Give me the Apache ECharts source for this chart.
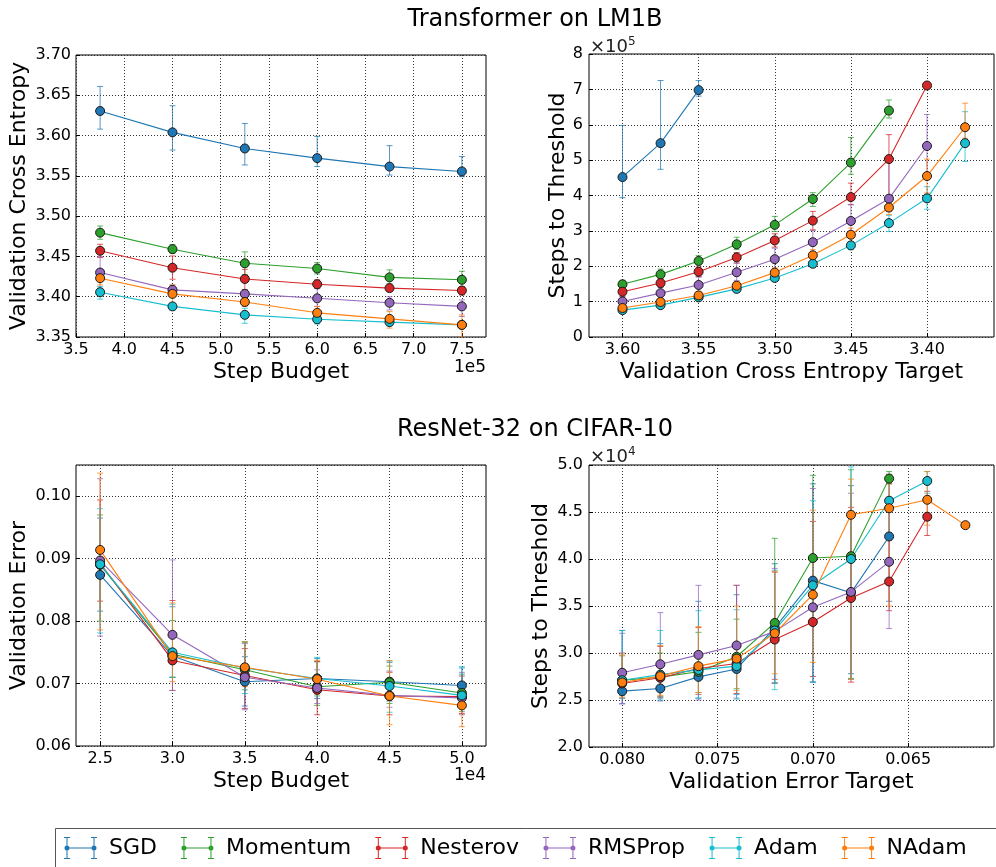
<!DOCTYPE html>
<html><head><meta charset="utf-8">
<script src="https://cdn.jsdelivr.net/npm/echarts@6/dist/echarts.min.js"></script>
<style>html,body{margin:0;padding:0;background:#fff}#c{width:996px;height:867px}</style>
</head><body><div id="c"></div>
<script>
// ---------------- data ----------------
const optimizers = ['SGD','Momentum','Nesterov','RMSProp','Adam','NAdam'];
const colors = ['#1f77b4','#2ca02c','#d62728','#9467bd','#17becf','#ff7f0e'];

// Panel A: Transformer on LM1B, validation cross entropy vs step budget (x1e5)
const lmBudget = [3.75, 4.5, 5.25, 6.0, 6.75, 7.5];
const lmCE_mean = [
  [3.6305, 3.604, 3.584, 3.572, 3.5615, 3.5555],
  [3.4795, 3.459, 3.4415, 3.435, 3.424, 3.421],
  [3.457, 3.436, 3.422, 3.4155, 3.4107, 3.4077],
  [3.430, 3.4085, 3.4035, 3.398, 3.3925, 3.388],
  [3.4056, 3.388, 3.3775, 3.372, 3.3685, 3.365],
  [3.423, 3.4035, 3.3935, 3.380, 3.3725, 3.365]
];
const lmCE_low = [
  [3.608, 3.582, 3.5635, 3.5615, 3.551, 3.549],
  [3.4713, 3.4539, 3.4275, 3.4283, 3.4159, 3.4101],
  [3.4486, 3.4217, 3.409, 3.4105, 3.4064, 3.4022],
  [3.4105, 3.402, 3.398, 3.388, 3.3836, 3.3755],
  [3.397, 3.383, 3.367, 3.3662, 3.3638, 3.362],
  [3.4146, 3.392, 3.388, 3.3712, 3.361, 3.35]
];
const lmCE_high = [
  [3.661, 3.637, 3.615, 3.599, 3.5875, 3.574],
  [3.4878, 3.4647, 3.4556, 3.4423, 3.4333, 3.4316],
  [3.4651, 3.4506, 3.434, 3.421, 3.4146, 3.4125],
  [3.4498, 3.4146, 3.4084, 3.41, 3.40, 3.396],
  [3.4126, 3.392, 3.3857, 3.3753, 3.372, 3.369],
  [3.429, 3.4146, 3.398, 3.388, 3.3816, 3.3774]
];

// Panel B: Transformer on LM1B, steps to threshold (x1e5) vs CE target
const lmTarget = [3.60, 3.575, 3.55, 3.525, 3.50, 3.475, 3.45, 3.425, 3.40, 3.375];
const lmSteps_mean = [
  [4.52, 5.48, 6.98],
  [1.49, 1.77, 2.15, 2.62, 3.17, 3.90, 4.93, 6.40],
  [1.28, 1.525, 1.845, 2.25, 2.73, 3.29, 3.955, 5.03, 7.11],
  [1.005, 1.24, 1.47, 1.83, 2.20, 2.68, 3.28, 3.91, 5.40],
  [0.76, 0.90, 1.12, 1.36, 1.67, 2.07, 2.59, 3.22, 3.92, 5.48],
  [0.82, 0.99, 1.175, 1.45, 1.82, 2.31, 2.89, 3.66, 4.55, 5.93]
];
const lmSteps_low = [
  [3.94, 4.74, 6.81],
  [1.38, 1.67, 2.04, 2.47, 2.98, 3.69, 4.60, 6.19],
  [1.15, 1.41, 1.71, 2.09, 2.54, 3.03, 3.74, 3.88, 7.11],
  [0.88, 1.09, 1.24, 1.60, 1.90, 2.39, 2.84, 3.55, 4.54],
  [0.68, 0.82, 1.03, 1.26, 1.57, 1.98, 2.47, 2.98, 3.61, 4.96],
  [0.72, 0.88, 1.07, 1.34, 1.69, 2.14, 2.70, 3.46, 4.07, 5.62]
];
const lmSteps_high = [
  [5.98, 7.25, 7.25],
  [1.60, 1.92, 2.30, 2.82, 3.41, 4.08, 5.64, 6.70],
  [1.38, 1.64, 1.98, 2.39, 2.92, 3.55, 4.35, 5.72, 7.11],
  [1.15, 1.41, 1.69, 2.09, 2.51, 3.01, 3.74, 5.01, 6.29],
  [0.87, 1.01, 1.21, 1.48, 1.76, 2.18, 2.70, 3.44, 4.25, 6.37],
  [0.91, 1.07, 1.29, 1.57, 1.95, 2.47, 3.08, 3.88, 5.03, 6.61]
];

// Panel C: ResNet-32 on CIFAR-10, validation error vs step budget (x1e4)
const cfBudget = [2.5, 3.0, 3.5, 4.0, 4.5, 5.0];
const cfErr_mean = [
  [0.0874, 0.0744, 0.0703, 0.0708, 0.0703, 0.0697],
  [0.0890, 0.0747, 0.0722, 0.0695, 0.0702, 0.0685],
  [0.0893, 0.0737, 0.0713, 0.0690, 0.0680, 0.0679],
  [0.0897, 0.0778, 0.0710, 0.0693, 0.0681, 0.0677],
  [0.0891, 0.0750, 0.0725, 0.0708, 0.0696, 0.0681],
  [0.0914, 0.0744, 0.0726, 0.0707, 0.0680, 0.0665]
];
const cfErr_low = [
  [0.0816, 0.0710, 0.0664, 0.0676, 0.0672, 0.0670],
  [0.0800, 0.0710, 0.0690, 0.0665, 0.0668, 0.0655],
  [0.0832, 0.0689, 0.0660, 0.0650, 0.0650, 0.0652],
  [0.0776, 0.0689, 0.0658, 0.0668, 0.0662, 0.0650],
  [0.0781, 0.0710, 0.0684, 0.0680, 0.0654, 0.0667],
  [0.0786, 0.0703, 0.0695, 0.0682, 0.0634, 0.0631]
];
const cfErr_high = [
  [0.0965, 0.0823, 0.0743, 0.0740, 0.0734, 0.0725],
  [0.0970, 0.0801, 0.0766, 0.0735, 0.0728, 0.0715],
  [0.0994, 0.0833, 0.0756, 0.0735, 0.0718, 0.0712],
  [0.1028, 0.0898, 0.0764, 0.0722, 0.0720, 0.0718],
  [0.0980, 0.0827, 0.0767, 0.0742, 0.0736, 0.0727],
  [0.1037, 0.0829, 0.0767, 0.0737, 0.0737, 0.0695]
];

// Panel D: ResNet-32 on CIFAR-10, steps to threshold (x1e4) vs error target
const cfTarget = [0.080, 0.078, 0.076, 0.074, 0.072, 0.070, 0.068, 0.066, 0.064, 0.062];
const cfSteps_mean = [
  [2.594, 2.623, 2.746, 2.83, 3.267, 3.77, 3.64, 4.24],
  [2.71, 2.743, 2.80, 2.96, 3.32, 4.01, 4.03, 4.855],
  [2.676, 2.736, 2.835, 2.888, 3.143, 3.33, 3.585, 3.76, 4.45],
  [2.79, 2.88, 2.98, 3.08, 3.23, 3.486, 3.65, 3.97],
  [2.71, 2.77, 2.82, 2.86, 3.24, 3.72, 4.00, 4.62, 4.83],
  [2.687, 2.754, 2.86, 2.94, 3.21, 3.62, 4.47, 4.54, 4.63, 4.36]
];
const cfSteps_low = [
  [2.46, 2.52, 2.52, 2.56, 2.68, 2.69, 2.78, 3.55],
  [2.55, 2.54, 2.58, 2.62, 2.68, 3.52, 2.73, 4.80],
  [2.52, 2.53, 2.56, 2.57, 2.72, 2.75, 2.69, 3.45, 4.25],
  [2.46, 2.49, 2.50, 2.52, 2.68, 2.69, 2.72, 3.26],
  [2.52, 2.50, 2.52, 2.51, 2.61, 2.69, 2.72, 4.20, 4.70],
  [2.53, 2.55, 2.58, 2.60, 2.78, 2.90, 2.72, 3.50, 4.36, 4.36]
];
const cfSteps_high = [
  [3.24, 3.10, 3.55, 3.62, 3.95, 4.80, 4.78, 4.55],
  [2.97, 3.00, 3.22, 3.36, 4.22, 4.89, 4.95, 4.93],
  [3.00, 3.07, 3.27, 3.72, 3.86, 4.40, 4.55, 4.80, 4.72],
  [3.21, 3.43, 3.72, 3.72, 3.90, 4.75, 4.70, 4.90],
  [3.24, 3.24, 3.45, 3.46, 3.88, 4.62, 4.98, 4.90, 4.93],
  [2.98, 3.08, 3.28, 3.50, 3.87, 4.52, 4.85, 4.90, 4.93, 4.36]
];

// tick labels
const lmBudgetTicks = [3.5, 4.0, 4.5, 5.0, 5.5, 6.0, 6.5, 7.0, 7.5];
const lmTargetTicks = [3.60, 3.55, 3.50, 3.45, 3.40];
const cfBudgetTicks = [2.5, 3.0, 3.5, 4.0, 4.5, 5.0];
const cfTargetTicks = [0.080, 0.075, 0.070, 0.065];

// ---------------- chart ----------------
const FONT = 'DejaVu Sans';
const chart = echarts.init(document.getElementById('c'), null, {renderer: 'canvas'});

const grids = [
  {left: 76, top: 55, width: 410, height: 282},
  {left: 589, top: 54, width: 405, height: 283},
  {left: 76, top: 465, width: 410, height: 281},
  {left: 589, top: 465, width: 405, height: 282}
].map(g => Object.assign(g, {show: true, borderColor: '#000', borderWidth: 1, backgroundColor: 'transparent'}));

const splitLine = {show: true, lineStyle: {color: '#333', type: [1, 2], width: 1}};
const tick = {show: true, inside: true, length: 4, lineStyle: {color: '#000'}};
const lbl = {color: '#000', fontSize: 16, fontFamily: FONT};
const nameStyle = {color: '#000', fontSize: 22, fontFamily: FONT};

function xAx(gi, opts) {
  return Object.assign({
    type: 'value', gridIndex: gi, axisLine: {show: false},
    splitLine, nameLocation: 'middle', nameGap: 24, nameTextStyle: nameStyle
  }, opts);
}
function yAx(gi, opts) {
  return Object.assign({
    type: 'value', gridIndex: gi, axisLine: {show: false},
    splitLine, axisTick: tick, nameLocation: 'middle', nameTextStyle: nameStyle
  }, opts);
}

const xAxis = [
  xAx(0, {min: 3.5, max: 7.75, name: 'Step Budget',
    axisTick: Object.assign({customValues: lmBudgetTicks}, tick),
    axisLabel: Object.assign({customValues: lmBudgetTicks, margin: 5, formatter: v => v.toFixed(1)}, lbl)}),
  xAx(1, {min: 3.356, max: 3.622, inverse: true, name: 'Validation Cross Entropy Target',
    axisTick: Object.assign({customValues: lmTargetTicks}, tick),
    axisLabel: Object.assign({customValues: lmTargetTicks, margin: 5, formatter: v => v.toFixed(2)}, lbl)}),
  xAx(2, {min: 2.3333, max: 5.1667, name: 'Step Budget',
    axisTick: Object.assign({customValues: cfBudgetTicks}, tick),
    axisLabel: Object.assign({customValues: cfBudgetTicks, margin: 5, formatter: v => v.toFixed(1)}, lbl)}),
  xAx(3, {min: 0.0605, max: 0.08174, inverse: true, name: 'Validation Error Target',
    axisTick: Object.assign({customValues: cfTargetTicks}, tick),
    axisLabel: Object.assign({customValues: cfTargetTicks, margin: 5, formatter: v => v.toFixed(3)}, lbl)})
];
const yAxis = [
  yAx(0, {min: 3.35, max: 3.70, interval: 0.05, name: 'Validation Cross Entropy', nameGap: 46,
    axisLabel: Object.assign({margin: 5, formatter: v => v.toFixed(2)}, lbl)}),
  yAx(1, {min: 0, max: 8, interval: 1, name: 'Steps to Threshold', nameGap: 19,
    axisLabel: Object.assign({margin: 6, formatter: v => String(Math.round(v))}, lbl)}),
  yAx(2, {min: 0.06, max: 0.105, interval: 0.01, name: 'Validation Error', nameGap: 46,
    axisLabel: Object.assign({margin: 5, showMaxLabel: false, formatter: v => v.toFixed(2)}, lbl)}),
  yAx(3, {min: 2.0, max: 5.0, interval: 0.5, name: 'Steps to Threshold', nameGap: 37,
    axisLabel: Object.assign({margin: 6, formatter: v => v.toFixed(1)}, lbl)})
];

function errRender(color) {
  return function (params, api) {
    const x = api.value(0), lo = api.value(1), hi = api.value(2);
    const p1 = api.coord([x, lo]), p2 = api.coord([x, hi]);
    const cw = 3;
    const st = {stroke: color, lineWidth: 1, opacity: 0.75};
    return {type: 'group', children: [
      {type: 'line', shape: {x1: p1[0], y1: p1[1], x2: p2[0], y2: p2[1]}, style: st},
      {type: 'line', shape: {x1: p1[0] - cw, y1: p1[1], x2: p1[0] + cw, y2: p1[1]}, style: st},
      {type: 'line', shape: {x1: p2[0] - cw, y1: p2[1], x2: p2[0] + cw, y2: p2[1]}, style: st}
    ]};
  };
}

const series = [];
function addPanel(gi, xs, means, lows, highs) {
  optimizers.forEach((name, i) => {
    const m = means[i];
    series.push({
      type: 'custom', name, xAxisIndex: gi, yAxisIndex: gi, z: 2,
      renderItem: errRender(colors[i]), clip: true,
      itemStyle: {color: colors[i]},
      encode: {x: 0, y: [1, 2]},
      data: m.map((v, k) => [xs[k], lows[i][k], highs[i][k]]),
      silent: true
    });
    series.push({
      type: 'line', name, xAxisIndex: gi, yAxisIndex: gi, z: 3,
      data: m.map((v, k) => [xs[k], v]),
      symbol: 'circle', symbolSize: 9, showSymbol: true,
      lineStyle: {color: colors[i], width: 1.1},
      itemStyle: {color: colors[i], borderColor: '#1a1a1a', borderWidth: 1},
      emphasis: {disabled: true}, clip: true
    });
  });
}
addPanel(0, lmBudget, lmCE_mean, lmCE_low, lmCE_high);
addPanel(1, lmTarget, lmSteps_mean, lmSteps_low, lmSteps_high);
addPanel(2, cfBudget, cfErr_mean, cfErr_low, cfErr_high);
addPanel(3, cfTarget, cfSteps_mean, cfSteps_low, cfSteps_high);

const legendIcon = 'path://' +
  'M3 10.5H30V11.5H3Z' +
  'M2.5 0H3.5V22H2.5Z M0 0H6V1H0Z M0 21H6V22H0Z' +
  'M29.5 0H30.5V22H29.5Z M27 0H33V1H27Z M27 21H33V22H27Z' +
  'M5.5 11A2.5 2.5 0 1 1 0.5 11A2.5 2.5 0 1 1 5.5 11Z' +
  'M32.5 11A2.5 2.5 0 1 1 27.5 11A2.5 2.5 0 1 1 32.5 11Z';

const multStyle = (t) => ({
  text: t, fill: '#222', fontFamily: FONT,
  rich: {a: {fontSize: 18, fontFamily: FONT, fill: '#222'}, b: {fontSize: 12, fontFamily: FONT, fill: '#222', padding: [0, 0, 10, 0]}}
});

chart.setOption({
  animation: false,
  backgroundColor: '#fff',
  color: colors,
  grid: grids,
  xAxis, yAxis, series,
  legend: {
    data: optimizers.map(n => ({name: n, icon: legendIcon})),
    left: 64, top: 837, width: 930, padding: 0,
    itemWidth: 33, itemHeight: 22, itemGap: 24,
    itemStyle: {borderWidth: 0},
    textStyle: {color: '#000', fontSize: 22, fontFamily: FONT, padding: [0, 0, 0, 7]},
    selectedMode: false
  },
  graphic: [
    {type: 'text', x: 535, y: 20, style: {text: 'Transformer on LM1B', fontSize: 24, fontFamily: FONT, fill: '#000', align: 'center', verticalAlign: 'middle'}},
    {type: 'text', x: 535, y: 430, style: {text: 'ResNet-32 on CIFAR-10', fontSize: 24, fontFamily: FONT, fill: '#000', align: 'center', verticalAlign: 'middle'}},
    {type: 'text', x: 486, y: 368, style: {text: '1e5', fontSize: 17, fontFamily: FONT, fill: '#000', align: 'right', verticalAlign: 'middle'}},
    {type: 'text', x: 486, y: 776, style: {text: '1e4', fontSize: 17, fontFamily: FONT, fill: '#000', align: 'right', verticalAlign: 'middle'}},
    {type: 'text', x: 590, y: 47, style: Object.assign(multStyle('{a|×10}{b|5}'), {verticalAlign: 'middle'})},
    {type: 'text', x: 590, y: 457, style: Object.assign(multStyle('{a|×10}{b|4}'), {verticalAlign: 'middle'})},
    {type: 'rect', shape: {x: 55.5, y: 828.5, width: 960, height: 60}, style: {fill: 'none', stroke: '#555', lineWidth: 1}}
  ]
});
</script>
</body></html>
